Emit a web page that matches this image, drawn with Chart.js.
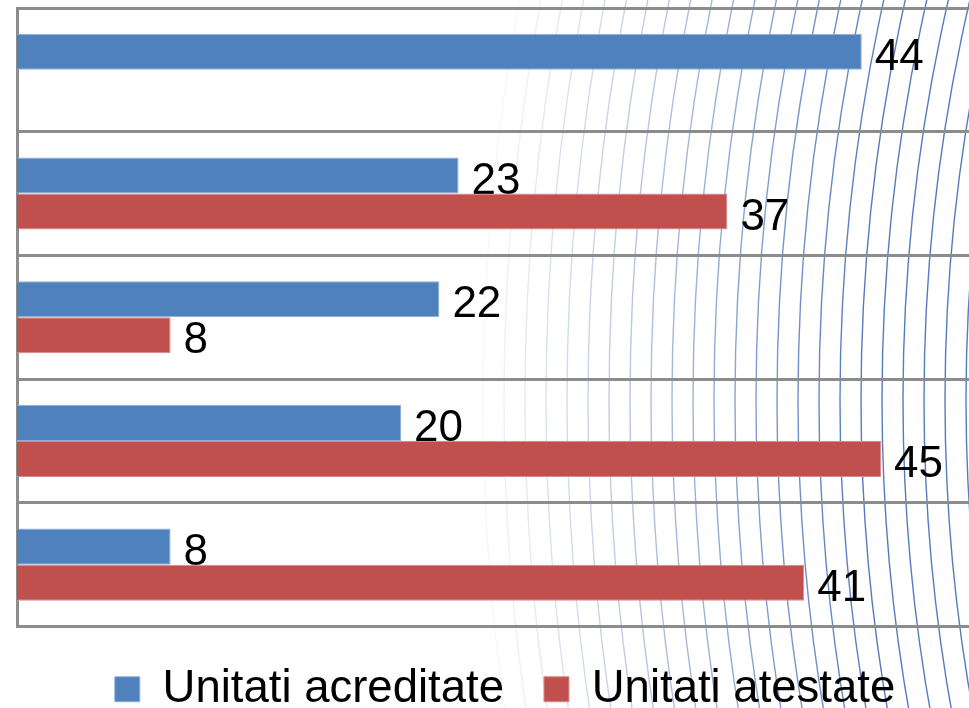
<!DOCTYPE html>
<html>
<head>
<meta charset="utf-8">
<script src="https://cdn.jsdelivr.net/npm/chart.js@4.4.1/dist/chart.umd.min.js"></script>
<style>
  html, body { margin: 0; padding: 0; overflow: hidden; background: #fff; }
  #wrap { width: 1010px; height: 722px; position: relative; }
</style>
</head>
<body>
<div id="wrap"><canvas id="chart"></canvas></div>
<script>
// ---- data ----
const categories = ["", "", "", "", ""];          // category names are cut off in the picture
const seriesNames = ["Unitati acreditate", "Unitati atestate"];
const acreditate = [44, 23, 22, 20, 8];
const atestate = [null, 37, 8, 45, 41];
const xMax = 50;

const FONT = '"Liberation Sans", Arial, sans-serif';
const GRID = "#8c8c8c";

// decorative concentric arcs behind the plot
const bgArcs = {
  id: "bgArcs",
  beforeDraw(chart) {
    const ctx = chart.ctx;
    ctx.save();
    const cx = 2690, cy = 400;
    for (let k = 0; k < 26; k++) {
      const r = 2207 - k * 21;
      const a = Math.min(0.85, 0.05 + k * 0.045);
      ctx.strokeStyle = `rgba(55,100,180,${a})`;
      ctx.lineWidth = 1.4;
      ctx.beginPath();
      ctx.arc(cx, cy, r, Math.PI * 0.75, Math.PI * 1.25);
      ctx.stroke();
    }
    ctx.restore();
  }
};

// value labels right of bar ends; blue ones go under the red bars
function drawLabels(chart, di) {
  const ctx = chart.ctx;
  const meta = chart.getDatasetMeta(di);
  const values = chart.data.datasets[di].data;
  ctx.save();
  ctx.font = "44px " + FONT;
  ctx.fillStyle = "#000";
  ctx.textBaseline = "alphabetic";
  meta.data.forEach((bar, i) => {
    if (values[i] == null) return;
    ctx.fillText(String(values[i]), bar.x + 13, bar.y + 18);
  });
  ctx.restore();
}

const valueLabels = {
  id: "valueLabels",
  beforeDatasetsDraw(chart) { drawLabels(chart, 0); },
  afterDatasetsDraw(chart) { drawLabels(chart, 1); }
};

new Chart(document.getElementById("chart"), {
  type: "bar",
  data: {
    labels: categories,
    datasets: [
      {
        label: seriesNames[0],
        data: acreditate,
        backgroundColor: "#4f81bd",
        borderColor: "#8fb0da",
        borderWidth: 1,
        categoryPercentage: 0.583,
        barPercentage: 1.0
      },
      {
        label: seriesNames[1],
        data: atestate,
        backgroundColor: "#c0504d",
        borderColor: "#d98c8a",
        borderWidth: 1,
        categoryPercentage: 0.583,
        barPercentage: 1.0
      }
    ]
  },
  options: {
    indexAxis: "y",
    responsive: true,
    maintainAspectRatio: false,
    animation: false,
    layout: { padding: { top: 8, left: 0, right: 0, bottom: 0 } },
    scales: {
      x: { display: false, min: 0, max: xMax },
      y: {
        ticks: { display: false },
        grid: { color: GRID, lineWidth: 3, drawTicks: false },
        border: { display: true, color: GRID, width: 3 },
        afterFit(scale) { scale.width = 17; }
      },
      y2: {
        type: "linear",
        position: "right",
        grid: { display: false },
        border: { display: false },
        ticks: { display: false },
        afterFit(scale) { scale.width = 33; }
      }
    },
    plugins: {
      tooltip: { enabled: false },
      legend: {
        position: "bottom",
        labels: {
          boxWidth: 25,
          boxHeight: 25,
          padding: 40,
          color: "#000",
          font: { family: FONT, size: 45.5, lineHeight: 0.5 }
        }
      }
    }
  },
  plugins: [bgArcs, valueLabels]
});
</script>
</body>
</html>
